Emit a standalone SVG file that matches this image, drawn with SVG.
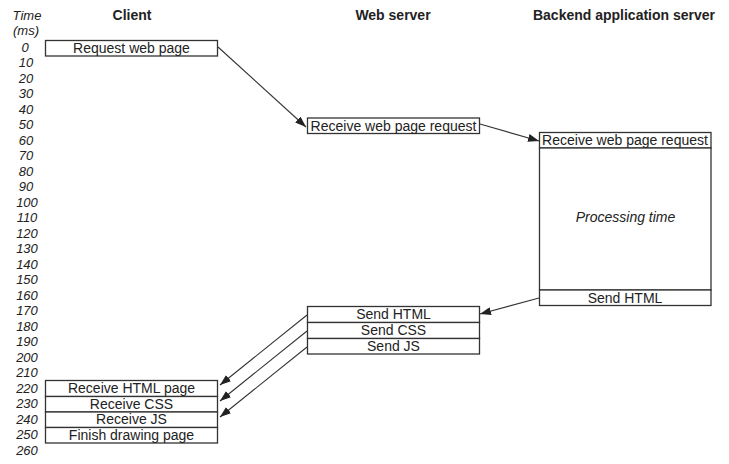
<svg xmlns="http://www.w3.org/2000/svg" width="729" height="464" viewBox="0 0 729 464">
<defs>
<style>
.t{font-family:"Liberation Sans",Arial,sans-serif;font-size:13px;font-style:italic;fill:#222;text-anchor:middle}
.h{font-family:"Liberation Sans",Arial,sans-serif;font-size:14px;font-weight:bold;fill:#222;text-anchor:middle}
.b{font-family:"Liberation Sans",Arial,sans-serif;font-size:14px;fill:#222;text-anchor:middle}
.bi{font-family:"Liberation Sans",Arial,sans-serif;font-size:14px;font-style:italic;fill:#222;text-anchor:middle}
.box{fill:#fff;stroke:#333;stroke-width:1.3}
.arr{stroke:#333;stroke-width:1.1;fill:none;marker-end:url(#ah)}
</style>
<marker id="ah" markerUnits="userSpaceOnUse" markerWidth="12" markerHeight="8" refX="11" refY="4" orient="auto">
<path d="M0,0 L11,4 L0,8 z" fill="#222"/>
</marker>
</defs>
<rect width="729" height="464" fill="#fff"/>
<g id="time-axis">
<text class="t" x="27" y="20">Time</text>
<text class="t" x="26" y="35">(ms)</text>
<text class="t" x="25" y="51.5">0</text>
<text class="t" x="26" y="67">10</text>
<text class="t" x="26" y="82.5">20</text>
<text class="t" x="26" y="98">30</text>
<text class="t" x="26" y="113.5">40</text>
<text class="t" x="26" y="129">50</text>
<text class="t" x="26" y="144.5">60</text>
<text class="t" x="26" y="160">70</text>
<text class="t" x="26" y="175.5">80</text>
<text class="t" x="26" y="191">90</text>
<text class="t" x="27" y="206.5">100</text>
<text class="t" x="27" y="222">110</text>
<text class="t" x="27" y="237.5">120</text>
<text class="t" x="27" y="253">130</text>
<text class="t" x="27" y="268.5">140</text>
<text class="t" x="27" y="284">150</text>
<text class="t" x="27" y="299.5">160</text>
<text class="t" x="27" y="315">170</text>
<text class="t" x="27" y="330.5">180</text>
<text class="t" x="27" y="346">190</text>
<text class="t" x="27" y="361.5">200</text>
<text class="t" x="27" y="377">210</text>
<text class="t" x="27" y="392.5">220</text>
<text class="t" x="27" y="408">230</text>
<text class="t" x="27" y="423.5">240</text>
<text class="t" x="27" y="439">250</text>
<text class="t" x="27" y="454.5">260</text>
</g>
<g id="headers">
<text class="h" x="132" y="20">Client</text>
<text class="h" x="393" y="20">Web server</text>
<text class="h" x="624" y="20">Backend application server</text>
</g>
<g id="client-request">
<rect class="box" x="45.5" y="40.5" width="172" height="15.5"/>
<text class="b" x="131.5" y="53">Request web page</text>
</g>
<g id="web-receive">
<rect class="box" x="307.5" y="118" width="172" height="15.5"/>
<text class="b" x="393.5" y="130.5">Receive web page request</text>
</g>
<g id="backend-receive">
<rect class="box" x="539.5" y="132.5" width="171.5" height="15.5"/>
<text class="b" x="625" y="145">Receive web page request</text>
</g>
<g id="backend-processing">
<rect class="box" x="539.5" y="148" width="171.5" height="142"/>
<text class="bi" x="625.5" y="222">Processing time</text>
</g>
<g id="backend-send-html">
<rect class="box" x="539.5" y="290" width="171.5" height="15.5"/>
<text class="b" x="625" y="302.5">Send HTML</text>
</g>
<g id="web-send-html">
<rect class="box" x="307.5" y="306.5" width="172" height="16"/>
<text class="b" x="393.5" y="319">Send HTML</text>
</g>
<g id="web-send-css">
<rect class="box" x="307.5" y="322.5" width="172" height="16"/>
<text class="b" x="393.5" y="335">Send CSS</text>
</g>
<g id="web-send-js">
<rect class="box" x="307.5" y="338.5" width="172" height="15.5"/>
<text class="b" x="393.5" y="351">Send JS</text>
</g>
<g id="client-receive-html">
<rect class="box" x="45.5" y="380.5" width="172" height="16"/>
<text class="b" x="131.5" y="393">Receive HTML page</text>
</g>
<g id="client-receive-css">
<rect class="box" x="45.5" y="396.5" width="172" height="15.5"/>
<text class="b" x="131.5" y="408.5">Receive CSS</text>
</g>
<g id="client-receive-js">
<rect class="box" x="45.5" y="412" width="172" height="15.5"/>
<text class="b" x="131.5" y="424">Receive JS</text>
</g>
<g id="client-finish">
<rect class="box" x="45.5" y="427.5" width="172" height="15.5"/>
<text class="b" x="131.5" y="440">Finish drawing page</text>
</g>
<g id="connectors">
<line class="arr" x1="218" y1="47" x2="306" y2="127"/>
<line class="arr" x1="480" y1="124" x2="539" y2="141"/>
<line class="arr" x1="539" y1="298" x2="480" y2="314"/>
<line class="arr" x1="307" y1="315" x2="220" y2="385"/>
<line class="arr" x1="307" y1="331" x2="220" y2="401"/>
<line class="arr" x1="307" y1="347" x2="220" y2="417"/>
</g>
</svg>
